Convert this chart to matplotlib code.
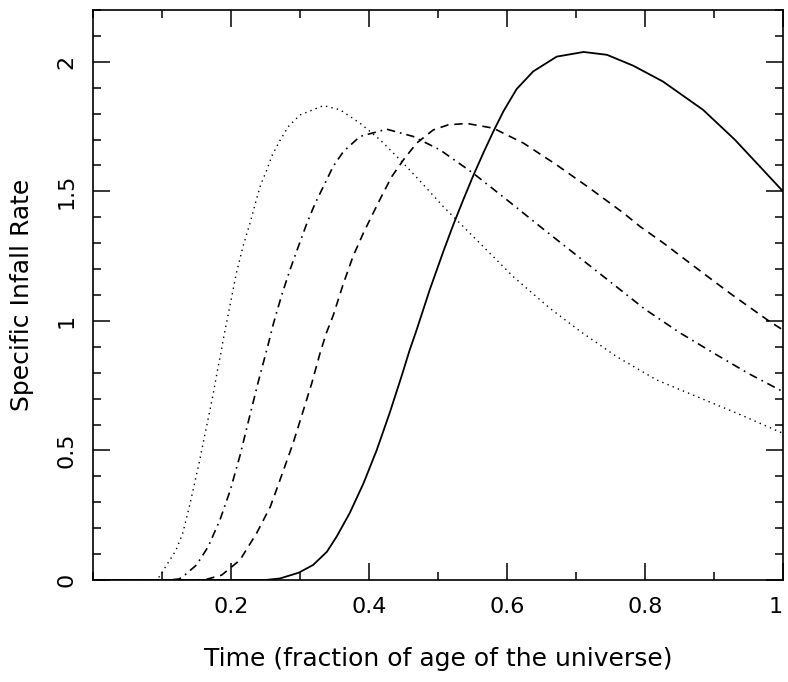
"""Specific infall rate vs. time for four halo histories."""

import matplotlib
matplotlib.use("Agg")
import matplotlib.pyplot as plt
from matplotlib.ticker import MultipleLocator

# ── values ────────────────────────────────────────────────────────
solid_x = [0.0, 0.25, 0.271, 0.298, 0.319, 0.339, 0.353, 0.372, 0.392, 0.411,
           0.430, 0.447, 0.459, 0.469, 0.488, 0.508, 0.522, 0.537, 0.551,
           0.566, 0.580, 0.595, 0.614, 0.638, 0.672, 0.711, 0.745, 0.783,
           0.826, 0.884, 0.930, 0.971, 1.0]
solid_y = [0.0, 0.0, 0.006, 0.028, 0.058, 0.109, 0.167, 0.258, 0.373, 0.50,
           0.645, 0.785, 0.888, 0.965, 1.12, 1.27, 1.37, 1.47, 1.56,
           1.65, 1.73, 1.81, 1.895, 1.963, 2.02, 2.038, 2.027, 1.985,
           1.924, 1.815, 1.70, 1.583, 1.50]

dashed_x = [0.0, 0.15, 0.165, 0.1865, 0.213, 0.237, 0.257, 0.271, 0.290,
            0.305, 0.317, 0.329, 0.338, 0.348, 0.363, 0.377, 0.392, 0.406,
            0.418, 0.433, 0.450, 0.469, 0.493, 0.515, 0.542, 0.580, 0.624,
            0.672, 0.720, 0.769, 0.793, 0.827, 0.875, 0.923, 0.981, 1.0]
dashed_y = [0.0, 0.0, 0.003, 0.019, 0.077, 0.180, 0.283, 0.386, 0.528,
            0.656, 0.759, 0.875, 0.952, 1.02, 1.145, 1.25, 1.34, 1.416,
            1.48, 1.557, 1.622, 1.686, 1.737, 1.757, 1.762, 1.744, 1.686,
            1.602, 1.512, 1.416, 1.364, 1.300, 1.203, 1.107, 0.997, 0.965]

dashdot_x = [0.0, 0.11, 0.125, 0.133, 0.150, 0.167, 0.184, 0.199, 0.213,
             0.225, 0.240, 0.254, 0.261, 0.2735, 0.2855, 0.2976, 0.310,
             0.322, 0.334, 0.348, 0.363, 0.387, 0.4256, 0.464, 0.503, 0.551,
             0.600, 0.650, 0.700, 0.750, 0.800, 0.850, 0.900, 0.950, 1.0]
dashdot_y = [0.0, 0.0, 0.004, 0.019, 0.058, 0.129, 0.232, 0.347, 0.48,
             0.61, 0.77, 0.91, 0.985, 1.10, 1.197, 1.287, 1.377,
             1.454, 1.519, 1.596, 1.654, 1.712, 1.740, 1.712, 1.660, 1.570,
             1.467, 1.36, 1.255, 1.15, 1.045, 0.955, 0.875, 0.797, 0.727]

dotted_x = [0.0, 0.09, 0.0946, 0.0996, 0.1199, 0.130, 0.1396, 0.1532, 0.1633,
            0.1735, 0.1807, 0.1855, 0.1888, 0.208, 0.218, 0.2275, 0.238,
            0.243, 0.251, 0.260, 0.270, 0.283, 0.300, 0.334, 0.358, 0.387,
            0.416, 0.445, 0.474, 0.5077, 0.546, 0.609, 0.662, 0.706, 0.759,
            0.817, 0.875, 0.933, 1.0]
dotted_y = [0.0, 0.0, 0.007, 0.028, 0.113, 0.180, 0.283, 0.444, 0.576,
            0.708, 0.814, 0.878, 0.929, 1.187, 1.293, 1.377, 1.480,
            1.525, 1.577, 1.641, 1.692, 1.750, 1.795, 1.831, 1.815, 1.763,
            1.699, 1.622, 1.54, 1.441, 1.339, 1.171, 1.049, 0.96, 0.862,
            0.772, 0.708, 0.644, 0.566]

xticks = [0.2, 0.4, 0.6, 0.8, 1.0]
xticklabels = ["0.2", "0.4", "0.6", "0.8", "1"]
yticks = [0, 0.5, 1.0, 1.5, 2.0]
yticklabels = ["0", "0.5", "1", "1.5", "2"]

# ──────────────────────────────────────────────────────────────────

fig = plt.figure(figsize=(7.88, 6.82), dpi=100)
ax = fig.add_axes([93 / 788, 1 - 580 / 682, 690 / 788, 570 / 682])

ax.plot(dotted_x, dotted_y, color="black", lw=1.0,
        linestyle=(0, (1, 3)))
ax.plot(dashdot_x, dashdot_y, color="black", lw=1.2,
        linestyle=(0, (5, 3, 1, 3)))
ax.plot(dashed_x, dashed_y, color="black", lw=1.2,
        linestyle=(0, (5, 3.5)))
ax.plot(solid_x, solid_y, color="black", lw=1.3, linestyle="-")

ax.set_xlim(0, 1)
ax.set_ylim(0, 2.2)

ax.set_xticks(xticks)
ax.set_xticklabels(xticklabels)
ax.set_yticks(yticks)
ax.set_yticklabels(yticklabels, rotation=90, va="center")
ax.xaxis.set_minor_locator(MultipleLocator(0.1))
ax.yaxis.set_minor_locator(MultipleLocator(0.1))

ax.tick_params(which="both", direction="in", top=True, right=True,
               width=1.1, colors="black", labelsize=16)
ax.tick_params(which="major", length=12, pad=12)
ax.tick_params(which="minor", length=6)
for sp in ax.spines.values():
    sp.set_linewidth(1.2)

# the "1" sits at the figure edge; keep it inside
ax.get_xticklabels()[-1].set_horizontalalignment("right")

ax.set_xlabel("Time (fraction of age of the universe)", fontsize=18,
              labelpad=22)
ax.set_ylabel("Specific Infall Rate", fontsize=18, labelpad=16)

fig.savefig("out.png", dpi=100)
